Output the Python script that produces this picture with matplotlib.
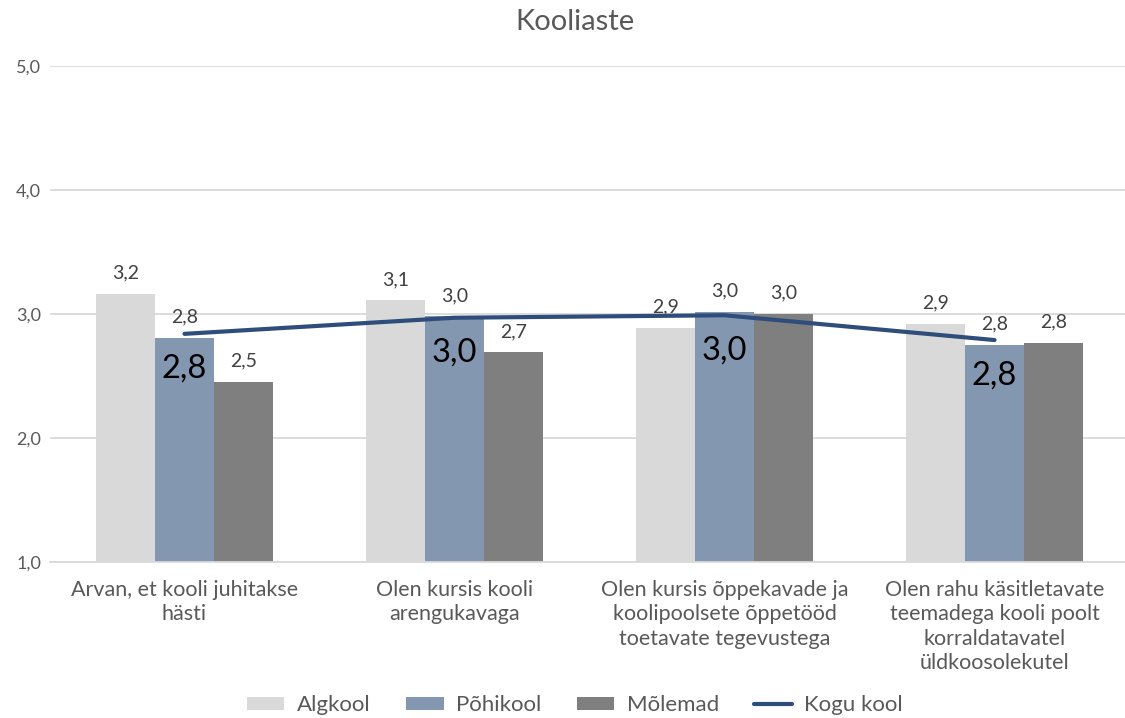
import matplotlib
matplotlib.use("Agg")
import matplotlib.pyplot as plt
import numpy as np
from matplotlib.patches import Patch
from matplotlib.lines import Line2D

categories = ["Arvan, et kooli juhitakse\nhästi",
              "Olen kursis kooli\narengukavaga",
              "Olen kursis õppekavade ja\nkoolipoolsete õppetööd\ntoetavate tegevustega",
              "Olen rahu käsitletavate\nteemadega kooli poolt\nkorraldatavatel\nüldkoosolekutel"]
algkool = [3.16, 3.11, 2.89, 2.92]
pohikool = [2.81, 2.98, 3.02, 2.75]
molemad = [2.45, 2.69, 3.00, 2.77]
kogu_kool = [2.84, 2.97, 2.99, 2.79]
series_names = ["Algkool", "Põhikool", "Mõlemad", "Kogu kool"]
yticks = [1.0, 2.0, 3.0, 4.0, 5.0]

colors = ["#D9D9D9", "#8497B0", "#7F7F7F"]
line_color = "#2E4D7B"
text_color = "#595959"

plt.rcParams['font.family'] = ['Lato', 'DejaVu Sans']

fig = plt.figure(figsize=(11.25, 7.18), dpi=100)
ax = fig.add_axes([0.044, 0.2173, 0.96, 0.6907])

x = np.arange(len(categories))
w = 0.218
for i, (vals, c) in enumerate(zip([algkool, pohikool, molemad], colors)):
    xs = x + (i - 1) * w
    ax.bar(xs, [v - 1.0 for v in vals], width=w, bottom=1.0, color=c, zorder=2)
    for xi, v in zip(xs, vals):
        ax.annotate(f"{v:.1f}".replace(".", ","), (xi, v), xytext=(0, 21),
                    textcoords="offset pixels", ha="center", va="center",
                    fontsize=14, color="#404040", zorder=5)

ax.plot(x, kogu_kool, color=line_color, lw=3, solid_capstyle="round", zorder=4)
for xi, v in zip(x, kogu_kool):
    ax.annotate(f"{v:.1f}".replace(".", ","), (xi, v), xytext=(0, -35),
                textcoords="offset pixels", ha="center", va="center",
                fontsize=23.5, color="#000000", zorder=5)

ax.set_xlim(-0.5, 3.5)
ax.set_ylim(1.0, 5.0)
ax.set_yticks(yticks)
ax.set_yticklabels([f"{t:.1f}".replace(".", ",") for t in yticks], fontsize=13, color=text_color)
ax.set_xticks(x)
ax.set_xticklabels(categories, fontsize=15.5, color=text_color, linespacing=1.27)
ax.tick_params(axis="both", length=0)
ax.tick_params(axis="x", pad=13)
ax.tick_params(axis="y", pad=6)
ax.grid(axis="y", color="#D9D9D9", lw=1.3, zorder=0)
ax.set_axisbelow(True)
for s in ["top", "right", "left"]:
    ax.spines[s].set_visible(False)
ax.spines["bottom"].set_color("#D9D9D9")
ax.spines["bottom"].set_linewidth(1.3)

fig.text(0.511, 0.969, "Kooliaste", ha="center", va="center", fontsize=21, color=text_color)

handles = [Patch(facecolor=c, edgecolor="none") for c in colors]
handles.append(Line2D([0], [0], color=line_color, lw=3, solid_capstyle="round"))
fig.legend(handles, series_names, loc="center", bbox_to_anchor=(0.511, 0.018), ncol=4,
           frameon=False, fontsize=16, labelcolor=text_color, handlelength=1.7,
           handleheight=0.55, columnspacing=1.6, handletextpad=0.55)

fig.savefig("out.png", dpi=100)
